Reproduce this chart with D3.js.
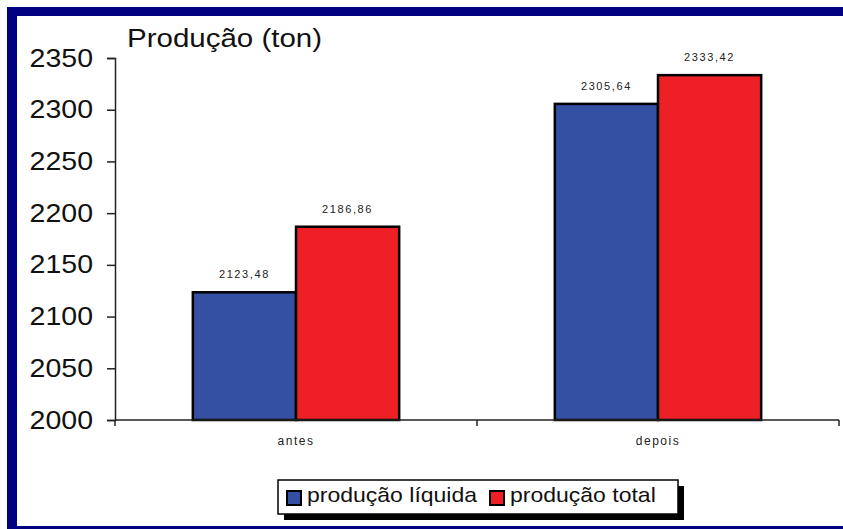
<!DOCTYPE html>
<html>
<head>
<meta charset="utf-8">
<script src="https://cdn.jsdelivr.net/npm/d3@7"></script>
<style>
  html, body { margin: 0; padding: 0; background: #fff; }
  svg { display: block; font-family: "Liberation Sans", Arial, sans-serif; }
</style>
</head>
<body>
<svg id="chart" width="843" height="529"></svg>
<script>
// Production before and after, in tonnes
const categories = ["antes", "depois"];
const seriesNames = ["produção líquida", "produção total"];
const liquida = [2123.48, 2305.64];
const total = [2186.86, 2333.42];
const yTicks = [2000, 2050, 2100, 2150, 2200, 2250, 2300, 2350];
const colors = ["#3450A2", "#EE2026"];
const titleText = "Produção (ton)";

const seriesValues = [liquida, total];
const rows = categories.map((c, i) => ({
  category: c,
  values: seriesNames.map((s, j) => ({ series: s, idx: j, value: seriesValues[j][i] }))
}));

const svg = d3.select("#chart");
const navy = "#000080";

// Frame bands
svg.append("rect").attr("x", 7).attr("y", 7).attr("width", 836).attr("height", 9).attr("fill", navy);
svg.append("rect").attr("x", 7).attr("y", 7).attr("width", 10).attr("height", 522).attr("fill", navy);
svg.append("rect").attr("x", 7).attr("y", 526).attr("width", 836).attr("height", 3).attr("fill", navy);

const plotLeft = 115, plotRight = 839, plotTop = 58, plotBottom = 420;

const y = d3.scaleLinear().domain([2000, 2350]).range([plotBottom, plotTop]);
const x0 = d3.scaleBand().domain(categories).range([plotLeft, plotRight]).padding(0);
const bw = x0.bandwidth();
const x1 = d3.scaleBand().domain(seriesNames).range([bw * 0.215, bw * 0.785]).padding(0);

const ptBR = d3.formatLocale({ decimal: ",", thousands: ".", grouping: [3], currency: ["R$", ""] });
const fmt = ptBR.format(".2f");

// Bars
const groups = svg.append("g").selectAll("g").data(rows).join("g")
  .attr("transform", d => `translate(${x0(d.category)},0)`);

groups.selectAll("rect").data(d => d.values).join("rect")
  .attr("x", d => x1(d.series))
  .attr("y", d => y(d.value))
  .attr("width", x1.bandwidth())
  .attr("height", d => y(2000) - y(d.value))
  .attr("fill", d => colors[d.idx])
  .attr("stroke", "#000")
  .attr("stroke-width", 2.5);

groups.selectAll("text").data(d => d.values).join("text")
  .attr("x", d => x1(d.series) + x1.bandwidth() / 2)
  .attr("y", d => y(d.value) - 14)
  .attr("text-anchor", "middle")
  .attr("font-size", 11)
  .attr("letter-spacing", 1.6)
  .attr("fill", "#222")
  .text(d => fmt(d.value));

// Y axis
const yAxis = svg.append("g").attr("transform", `translate(${plotLeft},0)`)
  .call(d3.axisLeft(y).tickValues(yTicks).tickSize(8).tickFormat(d3.format("d")));
yAxis.select(".domain").attr("stroke", "#222").attr("stroke-width", 1.5);
yAxis.selectAll(".tick line").attr("stroke", "#222").attr("stroke-width", 1.5);
yAxis.selectAll(".tick text")
  .attr("x", 0)
  .attr("transform", "translate(-22,0) scale(1.14,1)")
  .attr("font-size", 25)
  .attr("fill", "#111")
  .attr("font-family", "\"Liberation Sans\", Arial, sans-serif");

// X axis with ticks at band edges
const xg = svg.append("g");
xg.append("line").attr("x1", plotLeft).attr("x2", plotRight).attr("y1", plotBottom).attr("y2", plotBottom)
  .attr("stroke", "#222").attr("stroke-width", 1.5);
const edges = categories.map(c => x0(c)).concat([x0(categories[categories.length - 1]) + bw]);
xg.selectAll("line.edge").data(edges).join("line").attr("class", "edge")
  .attr("x1", d => d).attr("x2", d => d).attr("y1", plotBottom).attr("y2", plotBottom + 6)
  .attr("stroke", "#222").attr("stroke-width", 1.5);
xg.selectAll("text").data(categories).join("text")
  .attr("x", d => x0(d) + bw / 2)
  .attr("y", 445)
  .attr("text-anchor", "middle")
  .attr("font-size", 12)
  .attr("letter-spacing", 1.5)
  .attr("fill", "#222")
  .text(d => d);

// Title
svg.append("text")
  .attr("transform", "translate(127,47) scale(1.18,1)")
  .attr("font-size", 25)
  .attr("fill", "#111")
  .text(titleText);

// Legend with drop shadow
const lg = svg.append("g");
lg.append("rect").attr("x", 284).attr("y", 486).attr("width", 400).attr("height", 34).attr("fill", "#000");
lg.append("rect").attr("x", 278).attr("y", 480).attr("width", 400).attr("height", 34)
  .attr("fill", "#fff").attr("stroke", "#000").attr("stroke-width", 1.5);
const itemX = [287, 490];
seriesNames.forEach((s, i) => {
  lg.append("rect").attr("x", itemX[i]).attr("y", 491).attr("width", 14).attr("height", 14)
    .attr("fill", colors[i]).attr("stroke", "#000").attr("stroke-width", 2);
  lg.append("text")
    .attr("transform", `translate(${itemX[i] + 20},502) scale(1.15,1)`)
    .attr("font-size", 20)
    .attr("fill", "#111")
    .text(s);
});
</script>
</body>
</html>
